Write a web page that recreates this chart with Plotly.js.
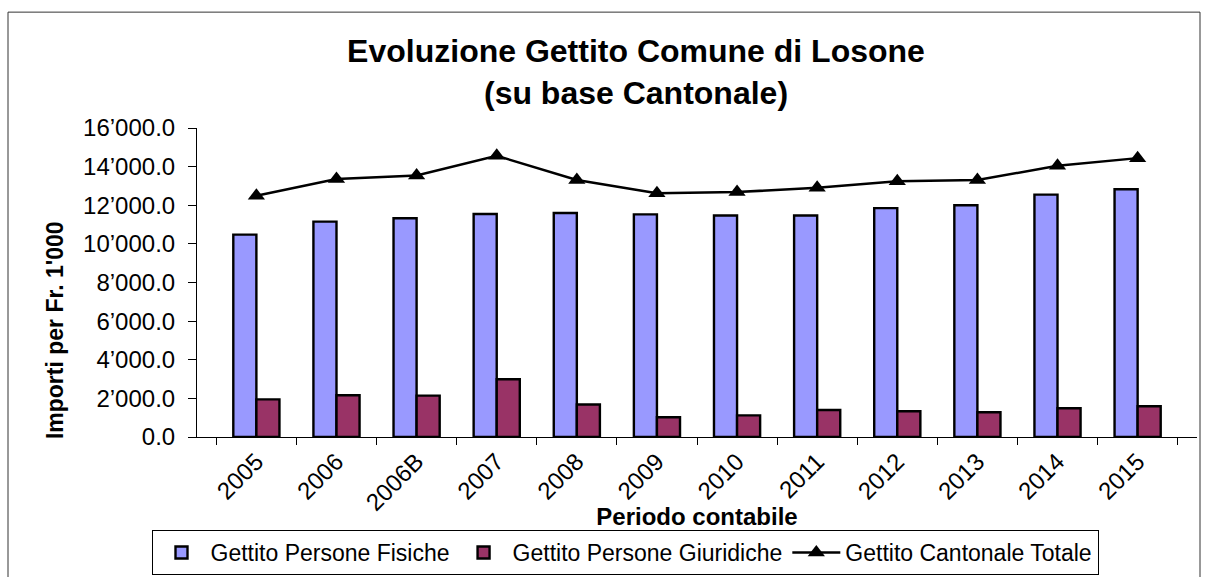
<!DOCTYPE html>
<html>
<head>
<meta charset="utf-8">
<script src="https://cdn.plot.ly/plotly-3.0.1.min.js"></script>
<style>
  html, body { margin: 0; padding: 0; background: #fff; }
  #chart { width: 1211px; height: 577px; }
</style>
</head>
<body>
<div id="chart"></div>
<script>
// ---- Data ----
const categories = ['2005','2006','2006B','2007','2008','2009','2010','2011','2012','2013','2014','2015'];
const fisiche    = [10480, 11150, 11330, 11550, 11600, 11530, 11470, 11470, 11850, 12000, 12550, 12830];
const giuridiche = [1950, 2160, 2140, 2990, 1680, 1020, 1120, 1400, 1330, 1280, 1490, 1590];
const totale     = [12490, 13360, 13540, 14560, 13310, 12620, 12680, 12910, 13240, 13310, 14040, 14440];
const yTickVals  = [0, 2000, 4000, 6000, 8000, 10000, 12000, 14000, 16000];
const yTickText  = ['0.0', '2\u2019000.0', '4\u2019000.0', '6\u2019000.0', '8\u2019000.0', '10\u2019000.0', '12\u2019000.0', '14\u2019000.0', '16\u2019000.0'];
const gridVals   = [2000, 4000, 6000, 8000, 10000, 12000, 14000];
const seriesNames = ['Gettito Persone Fisiche', 'Gettito Persone Giuridiche', 'Gettito Cantonale Totale'];

const FONT = 'Liberation Sans, Arial, Helvetica, sans-serif';

const traces = [
  {
    type: 'bar', name: seriesNames[0], x: categories, y: fisiche,
    marker: { color: '#9999FF', line: { color: '#000000', width: 2.4 } }
  },
  {
    type: 'bar', name: seriesNames[1], x: categories, y: giuridiche,
    marker: { color: '#993366', line: { color: '#000000', width: 2.4 } }
  },
  {
    type: 'scatter', mode: 'lines+markers', name: seriesNames[2], x: categories, y: totale,
    line: { color: '#000000', width: 2.5 },
    marker: { symbol: 'triangle-up', size: 15, color: '#000000' }
  }
];

const layout = {
  width: 1211, height: 577,
  margin: { l: 197, r: 14, t: 128, b: 140, pad: 0, autoexpand: false },
  paper_bgcolor: '#ffffff', plot_bgcolor: '#ffffff',
  font: { family: FONT, color: '#000000', size: 24 },
  showlegend: true,
  barmode: 'group', bargap: 0.424, bargroupgap: 0,
  title: {
    text: '<b>Evoluzione Gettito Comune di Losone<br>(su base Cantonale)</b>',
    font: { family: FONT, size: 32, color: '#000' },
    x: 0.439, xref: 'paper', xanchor: 'center',
    y: 1 - 62/577, yref: 'container', yanchor: 'top'
  },
  xaxis: {
    type: 'category',
    tickangle: -45,
    tickfont: { family: FONT, size: 24 },
    ticks: 'outside', ticklen: 7, tickcolor: '#000', tickwidth: 1,
    tickson: 'boundaries',
    showline: true, linecolor: '#000', linewidth: 1,
    showgrid: false, zeroline: false,
    automargin: false,
    title: { text: '<b>Periodo contabile</b>', font: { family: FONT, size: 24 }, standoff: 6 }
  },
  yaxis: {
    range: [0, 16000],
    tickvals: yTickVals, ticktext: yTickText,
    tickfont: { family: FONT, size: 24 },
    ticks: 'outside', ticklen: 8, tickcolor: '#000', tickwidth: 1,
    ticklabelstandoff: 8,
    showline: true, linecolor: '#000', linewidth: 1,
    showgrid: false, zeroline: false,
    automargin: false
  },
  yaxis2: {
    overlaying: 'y', side: 'left',
    range: [0, 16000],
    tickvals: gridVals,
    showticklabels: false, ticks: '',
    showgrid: true, gridcolor: '#222222', gridwidth: 1,
    showline: false, zeroline: false
  },
  annotations: [
    {
      text: '<b>Importi per Fr. 1\'000</b>',
      xref: 'paper', yref: 'paper', x: -0.142, y: 0.346,
      xanchor: 'center', yanchor: 'middle',
      textangle: -90, showarrow: false,
      font: { family: FONT, size: 23, color: '#000' }
    }
  ],
  legend: {
    orientation: 'h',
    x: 0.428, xanchor: 'center',
    y: 2/577, yref: 'container', yanchor: 'bottom',
    bgcolor: '#ffffff', bordercolor: '#000000', borderwidth: 1,
    font: { family: FONT, size: 23 },
    itemwidth: 48,
    traceorder: 'normal'
  },
  shapes: [
    {
      type: 'rect', xref: 'paper', yref: 'paper',
      x0: -0.189, x1: 1.003, y0: -0.6, y1: 1.375,
      line: { color: '#333333', width: 1 }, fillcolor: 'rgba(0,0,0,0)', layer: 'below'
    }
  ]
};

Plotly.newPlot('chart', traces, layout, { staticPlot: true, displayModeBar: false });
</script>
</body>
</html>
